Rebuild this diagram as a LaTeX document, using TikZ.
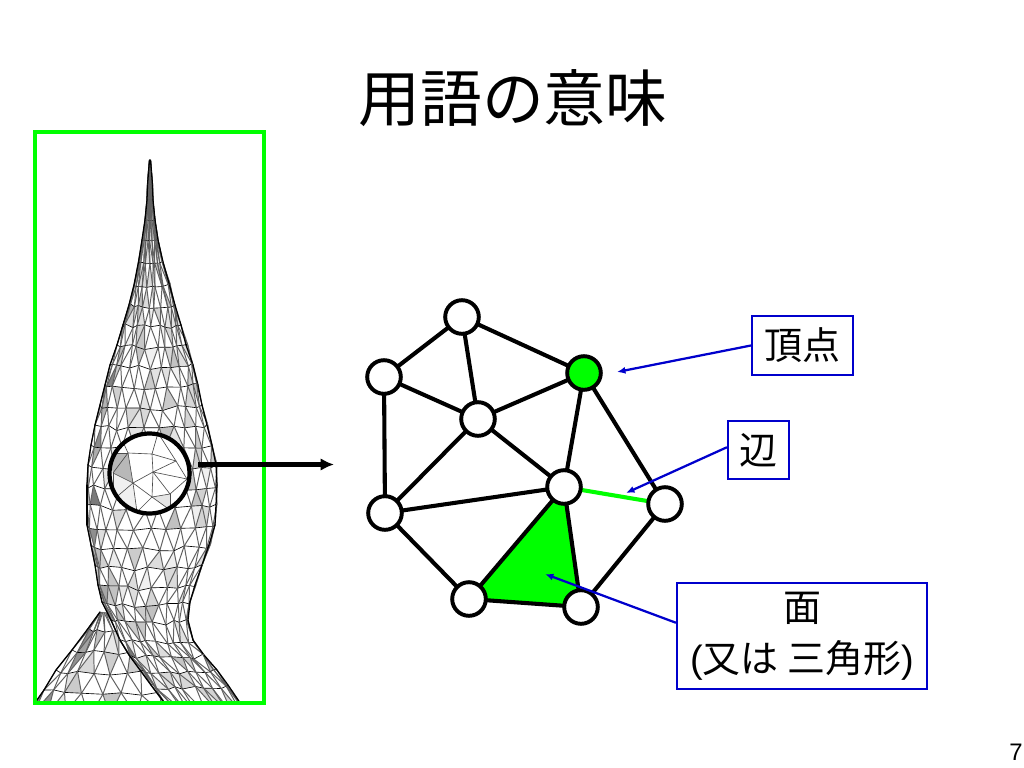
\documentclass[tikz,border=0pt]{standalone}
\usepackage{fontspec}
\setmainfont{Liberation Sans}
\newfontfamily\cjk{Noto Sans CJK JP}
\usetikzlibrary{arrows.meta}

\definecolor{markgreen}{RGB}{0,255,0}
\definecolor{boxblue}{RGB}{0,0,204}

\tikzset{
	vertex/.style={circle,draw=black,fill=white,line width=2.8pt,minimum size=0.84cm,inner sep=0pt},
	edge/.style={black,line width=2.9pt},
	labelbox/.style={draw=boxblue,fill=white,line width=1.5pt,inner sep=0pt,align=center,font=\fontsize{27}{36}\selectfont},
	pointer/.style={boxblue,line width=1.6pt,-{Latex[length=6pt,width=5pt]}},
	meshrow/.style={black,line width=0.45pt},
	meshside/.style={black!62,line width=0.7pt},
	meshrim/.style={black,line width=0.9pt,line cap=round}
}

%args: prefix, columns, rows as y/left/right
\newcommand{\drawmesh}[3]{
	\foreach \rowy/\rowl/\rowr [count=\row] in {#3}{
		\pgfmathtruncatemacro{\odd}{mod(\row,2)}
		\foreach \col in {0,...,#2}{
			\pgfmathsetmacro{\inner}{(\col>0)*(\col<#2)}
			\pgfmathsetmacro{\ang}{-90+180*(\col+\inner*\odd*0.5)/#2}
			\pgfmathsetmacro{\halfw}{(\rowr-\rowl)/2}
			\pgfmathsetmacro{\vx}{(\rowl+\rowr)/2+\halfw*sin(\ang)+\inner*rand*min(2.5,\halfw/12)}
			\pgfmathsetmacro{\vy}{\rowy+0.07*\halfw*cos(\ang)+\inner*rand*min(2.5,\halfw/12)}
			\coordinate (#1-\row-\col) at (\vx,\vy);
		}
		\xdef\lastrow{\row}
	}
	\pgfmathtruncatemacro{\lastcol}{#2-1}
	%faces
	\foreach \row in {2,...,\lastrow}{
		\pgfmathtruncatemacro{\prev}{\row-1}
		\foreach \col in {0,...,\lastcol}{
			\pgfmathtruncatemacro{\next}{\col+1}
			\pgfmathsetmacro{\tonea}{rnd<0.72 ? 0 : (\col<2 ? 25+rnd*30 : 5+rnd*20)}
			\pgfmathsetmacro{\toneb}{rnd<0.72 ? 0 : (\col<2 ? 25+rnd*30 : 5+rnd*20)}
			\ifodd\row
				\fill[black!\tonea!white] (#1-\prev-\col) -- (#1-\prev-\next) -- (#1-\row-\col) -- cycle;
				\fill[black!\toneb!white] (#1-\prev-\next) -- (#1-\row-\next) -- (#1-\row-\col) -- cycle;
			\else
				\fill[black!\tonea!white] (#1-\prev-\col) -- (#1-\prev-\next) -- (#1-\row-\next) -- cycle;
				\fill[black!\toneb!white] (#1-\prev-\col) -- (#1-\row-\next) -- (#1-\row-\col) -- cycle;
			\fi
		}
	}
	%lines
	\foreach \row in {2,...,\lastrow}{
		\pgfmathtruncatemacro{\prev}{\row-1}
		\foreach \col in {0,...,\lastcol}{
			\pgfmathtruncatemacro{\next}{\col+1}
			\draw[meshside] (#1-\prev-\col) -- (#1-\row-\col);
			\ifodd\row
				\draw[meshside] (#1-\prev-\next) -- (#1-\row-\col);
			\else
				\draw[meshside] (#1-\prev-\col) -- (#1-\row-\next);
			\fi
			\draw[meshrow] (#1-\row-\col) -- (#1-\row-\next);
		}
		\draw[meshrim] (#1-\prev-0) -- (#1-\row-0);
		\draw[meshrim] (#1-\prev-#2) -- (#1-\row-#2);
	}
}

\begin{document}
\begin{tikzpicture}[x=0.025cm,y=-0.025cm]
	\useasboundingbox (0,0) rectangle (1024,768);
	\pgfmathsetseed{11}

	%title and page number
	\node (title) at (513,98) {\cjk\fontsize{44}{50}\selectfont 用語の意味};
	\node (pagenum) at (1016,752) {\fontsize{17}{20}\selectfont 7};

	%surface
	\begin{scope}
		\clip (35,132) rectangle (264,703);
		\drawmesh{lobe}{10}{612/100/110,630/87/135,650/72/150,670/56/165,690/44/180,710/30/195}
		\drawmesh{body}{12}{160/149.5/150.5,172/148.5/151.5,185/147.5/152.5,200/147/153,220/145/155,240/142/158,262/138.5/163,285/134/169.5,305/129/175,325/123/181,345/117/186,365/110/193,385/105/198,405/100/202,425/95/207,445/91/212,465/88/216,485/87/217,505/87/216,525/87/215,545/91/209,565/95/202,585/98/195,602/102/190,620/111/188,640/120/193,655/129/204,670/140/217,685/151/228,710/170/245}
	\end{scope}

	%enlarged part of the surface
	\begin{scope}
		\clip (149.5,473.5) circle[radius=40];
		\fill[white] (100,425) rectangle (200,525);
		\fill[black!28] (108,453) -- (128,453) -- (133,483) -- (113,473) -- cycle;
		\fill[black!10] (152,497) -- (170,494) -- (170,510) -- cycle;
		\fill[black!6] (113,473) -- (133,483) -- (137,512) -- (113,500) -- cycle;
		\foreach \ax/\ay/\bx/\by in {128/453/152/454,152/454/176/461,108/453/128/453,152/454/153/472,152/454/158/433,128/453/120/435,128/453/133/483,128/453/113/473,153/472/133/483,153/472/176/461,153/472/170/494,153/472/152/497,133/483/113/473,133/483/152/497,133/483/137/512,152/497/170/494,170/494/187/479,113/473/113/500,133/483/113/500,152/497/137/512,152/497/170/510,170/494/170/510,176/461/158/433,176/461/187/479,153/472/187/479}
			\draw[black!70,line width=0.45pt] (\ax,\ay) -- (\bx,\by);
	\end{scope}
	\node[circle,draw=black,line width=3pt,minimum size=2cm,inner sep=0pt] (zoomcircle) at (149.5,473.5) {};

	%frame
	\draw[markgreen,line width=2.9pt] (35,132) rectangle (264,703);

	\coordinate (zoomstart) at (198,464.5);
	\coordinate (zoomend) at (334,464.5);
	\draw[black,line width=2.9pt,-{Latex[length=9.5pt,width=9pt]}] (zoomstart) -- (zoomend);

	%mesh vertices
	\coordinate (p1) at (462,317);
	\coordinate (p2) at (384,377);
	\coordinate (p3) at (584,373);
	\coordinate (p4) at (478,419);
	\coordinate (p5) at (564,487);
	\coordinate (p6) at (665,504);
	\coordinate (p7) at (385,513);
	\coordinate (p8) at (469,599);
	\coordinate (p9) at (581,607);

	%face
	\fill[markgreen] (p5) -- (p8) -- (p9) -- cycle;

	%edges
	\foreach \a/\b in {p1/p2,p1/p4,p1/p3,p2/p4,p2/p7,p4/p3,p4/p5,p4/p7,p3/p5,p3/p6,p5/p7,p5/p8,p5/p9,p6/p9,p7/p8,p8/p9}
		\draw[edge] (\a) -- (\b);
	\draw[markgreen,line width=2.9pt] (p5) -- (p6);

	\foreach \p in {p1,p2,p4,p5,p6,p7,p8,p9}
		\node[vertex] (v\p) at (\p) {};
	\node[vertex,fill=markgreen] (vp3) at (p3) {};

	%labels
	\node[labelbox,minimum width=2.525cm,minimum height=1.475cm] (vertexbox) at (802.5,345.5) {\cjk 頂点};
	\node[labelbox,minimum width=1.525cm,minimum height=1.45cm] (edgebox) at (758.5,450) {\cjk 辺};
	\node[labelbox,minimum width=6.25cm,minimum height=2.65cm] (facebox) at (802,636) {{\cjk 面}\\({\cjk 又は 三角形})};

	%pointers
	\coordinate (vertextip) at (617,372);
	\coordinate (edgetip) at (626,493);
	\coordinate (facetip) at (545,574);
	\draw[pointer] (vertexbox.west) -- (vertextip);
	\draw[pointer] (edgebox.175) -- (edgetip);
	\draw[pointer] (facebox.174) -- (facetip);
\end{tikzpicture}
\end{document}
